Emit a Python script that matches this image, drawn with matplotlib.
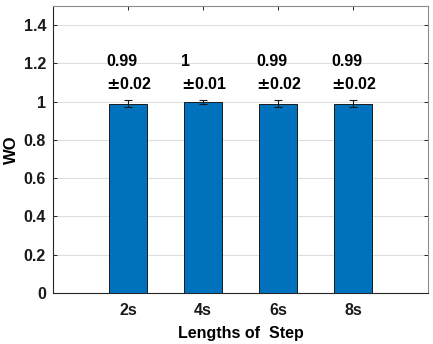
import matplotlib
matplotlib.use("Agg")
import matplotlib.pyplot as plt
import numpy as np

categories = ["2s", "4s", "6s", "8s"]
means = [0.99, 1.00, 0.99, 0.99]
stds = [0.02, 0.01, 0.02, 0.02]
mean_labels = ["0.99", "1", "0.99", "0.99"]
std_labels = [r"$\pm$0.02", r"$\pm$0.01", r"$\pm$0.02", r"$\pm$0.02"]
yticks = [0, 0.2, 0.4, 0.6, 0.8, 1.0, 1.2, 1.4]
ytick_labels = ["0", "0.2", "0.4", "0.6", "0.8", "1", "1.2", "1.4"]

plt.rcParams['font.family'] = ['Liberation Sans', 'DejaVu Sans']
plt.rcParams['font.weight'] = 'bold'
plt.rcParams['mathtext.fontset'] = 'dejavusans'

fig = plt.figure(figsize=(4.33, 3.44), dpi=100)
ax = fig.add_axes([0.1224, 0.1483, 0.866, 0.8343])

x = np.arange(1, len(categories) + 1)
ax.bar(x, means, width=0.5, color="#0072BD", edgecolor="#1a1a1a", linewidth=0.7, zorder=3)
ax.errorbar(x, means, yerr=stds, fmt="none", ecolor="#1a1a1a",
            elinewidth=0.8, capsize=3, capthick=0.8, zorder=4)

for xi, ml, sl in zip(x, mean_labels, std_labels):
    ax.text(xi - 0.29, 1.21, ml, ha="left", va="center", fontsize=11.5, fontweight="bold", zorder=5)
    ax.text(xi - 0.29, 1.09, sl, ha="left", va="center", fontsize=11.5, fontweight="bold", zorder=5)

ax.set_xlim(0, 5)
ax.set_ylim(0, 1.5)
ax.set_xticks(x)
ax.set_xticklabels(categories, fontsize=11.5, fontweight="bold")
ax.set_yticks(yticks)
ax.set_yticklabels(ytick_labels, fontsize=11.5, fontweight="bold")
ax.set_xlabel("Lengths of  Step", fontsize=11.5, fontweight="bold", labelpad=6)
ax.set_ylabel("WO", fontsize=12, fontweight="bold", labelpad=3)

ax.yaxis.grid(True, color="#dedede", linewidth=0.8, zorder=0)
ax.set_axisbelow(True)
ax.tick_params(axis="both", direction="in", length=3, width=0.7, colors="#262626",
               top=True, right=True, labelcolor="#1a1a1a")
ax.tick_params(axis="x", pad=7)
ax.tick_params(axis="y", pad=5)
for side in ["left", "bottom"]:
    ax.spines[side].set_color("#262626")
    ax.spines[side].set_linewidth(0.8)
for side in ["top", "right"]:
    ax.spines[side].set_color("#8c8c8c")
    ax.spines[side].set_linewidth(0.8)

fig.savefig("out.png", dpi=100)
